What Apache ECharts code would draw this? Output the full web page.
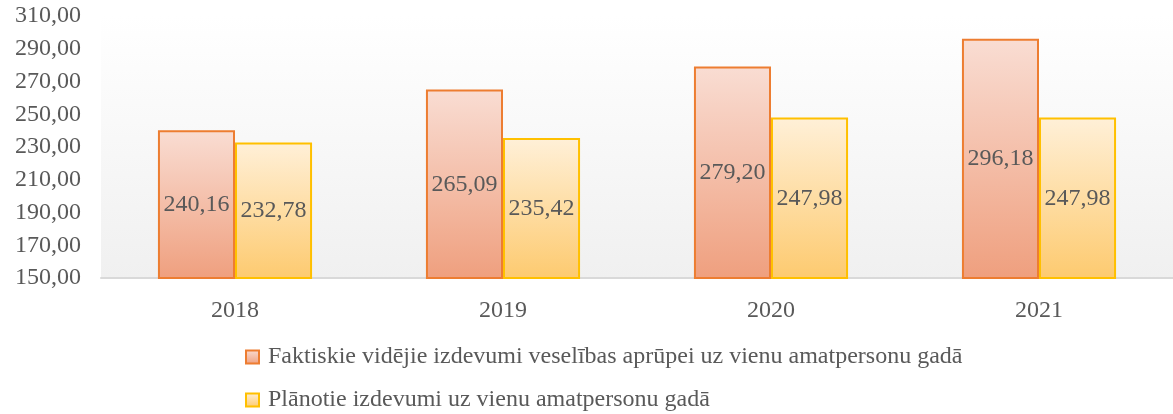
<!DOCTYPE html>
<html>
<head>
<meta charset="utf-8">
<script src="https://cdn.jsdelivr.net/npm/echarts@6/dist/echarts.min.js"></script>
<style>
  html, body { margin: 0; padding: 0; background: #fff; }
  #chart { width: 1173px; height: 414px; }
</style>
</head>
<body>
<div id="chart"></div>
<script>
const years = ["2018", "2019", "2020", "2021"];
const actualName = "Faktiskie vidējie izdevumi veselības aprūpei uz vienu amatpersonu gadā";
const plannedName = "Plānotie izdevumi uz vienu amatpersonu gadā";
const actual = [240.16, 265.09, 279.2, 296.18];
const planned = [232.78, 235.42, 247.98, 247.98];

const font = "Liberation Serif";
const textColor = "#595959";

const fmt = (v) => v.toFixed(2).replace(".", ",");

const grad = (top, bottom) =>
  new echarts.graphic.LinearGradient(0, 0, 0, 1, [
    { offset: 0, color: top },
    { offset: 1, color: bottom },
  ]);

const chart = echarts.init(document.getElementById("chart"));

const option = {
  animation: false,
  grid: {
    left: 101,
    right: 0,
    top: 16,
    bottom: 136,
    show: true,
    borderWidth: 0,
    backgroundColor: grad("#ffffff", "#f0f0f0"),
  },
  legend: {
    orient: "vertical",
    left: 245,
    top: 345,
    height: 150,
    padding: 0,
    icon: "rect",
    itemWidth: 13,
    itemHeight: 13,
    itemGap: 19,
    selectedMode: false,
    textStyle: {
      fontFamily: font,
      fontSize: 24,
      lineHeight: 24,
      color: textColor,
      padding: [0, 0, 0, 4],
    },
    data: [actualName, plannedName],
  },
  xAxis: {
    type: "category",
    data: years,
    axisLine: { lineStyle: { color: "#d9d9d9", width: 2 } },
    axisTick: { show: false },
    axisLabel: { fontFamily: font, fontSize: 24, color: textColor, margin: 21 },
  },
  yAxis: {
    type: "value",
    min: 150,
    max: 310,
    interval: 20,
    splitLine: { show: false },
    axisLine: { show: false },
    axisTick: { show: false },
    axisLabel: {
      fontFamily: font,
      fontSize: 24,
      color: textColor,
      margin: 20,
      formatter: (v) => fmt(v),
    },
  },
  series: [
    {
      name: actualName,
      type: "bar",
      data: actual,
      barGap: "0%",
      barCategoryGap: "42.5%",
      itemStyle: {
        color: grad("#f9ddd3", "#ef9f7e"),
        borderColor: "#ed7d31",
        borderWidth: 2,
      },
      label: {
        show: true,
        position: "inside",
        fontFamily: font,
        fontSize: 24,
        color: textColor,
        formatter: (p) => fmt(p.value),
      },
    },
    {
      name: plannedName,
      type: "bar",
      data: planned,
      itemStyle: {
        color: grad("#fff0d8", "#fdca6f"),
        borderColor: "#ffc000",
        borderWidth: 2,
      },
      label: {
        show: true,
        position: "inside",
        fontFamily: font,
        fontSize: 24,
        color: textColor,
        formatter: (p) => fmt(p.value),
      },
    },
  ],
};

chart.setOption(option);
</script>
</body>
</html>
